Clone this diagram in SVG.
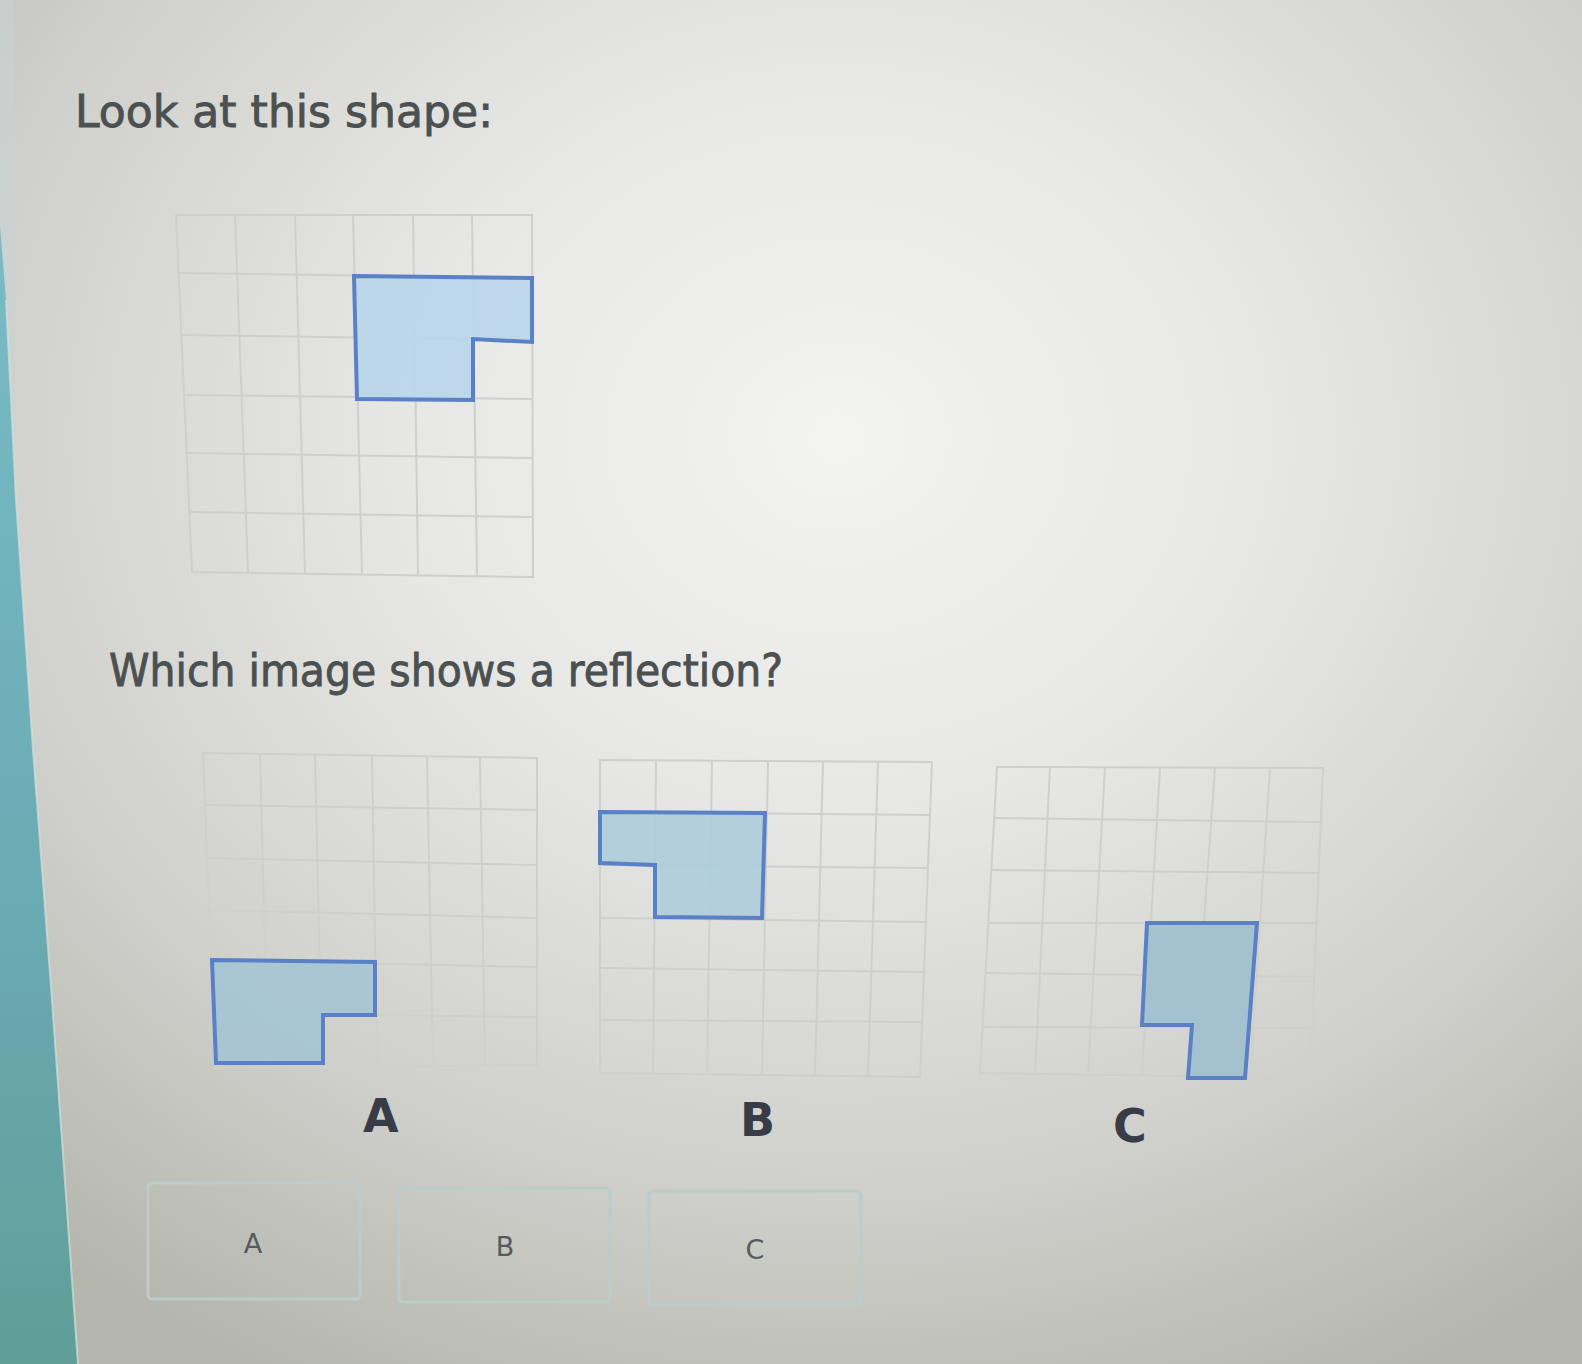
<svg xmlns="http://www.w3.org/2000/svg" width="1582" height="1364" viewBox="0 0 1582 1364">
<defs>
<radialGradient id="bg" cx="0.53" cy="0.32" r="0.78">
<stop offset="0" stop-color="#f3f3f1"/>
<stop offset="0.35" stop-color="#e7e8e5"/>
<stop offset="0.7" stop-color="#d0d1cc"/>
<stop offset="1" stop-color="#b4b5ad"/>
</radialGradient>
<linearGradient id="teal" x1="0" y1="0" x2="0" y2="1">
<stop offset="0" stop-color="#79bcc6"/>
<stop offset="0.6" stop-color="#6aaab3"/>
<stop offset="1" stop-color="#5f9f98"/>
</linearGradient>
<style>
.grid{fill:none;stroke:#cfd0cc;stroke-width:2}
.gin{fill:none;stroke:#cfd0cc;stroke-width:2}
.shape{stroke:#5a80c6;stroke-width:4;stroke-linejoin:miter}
.fillonly{fill-opacity:0.92;stroke:none}
.head{font-family:"DejaVu Sans",sans-serif;font-size:44px;fill:#4b5050;stroke:#4b5050;stroke-width:0.9}
.lab{font-family:"DejaVu Sans",sans-serif;font-weight:bold;font-size:46px;fill:#383c46}
.btn{fill:none;stroke:#bccccb;stroke-width:3}
.btxt{font-family:"DejaVu Sans",sans-serif;font-size:27px;fill:#56595e;text-anchor:middle}
</style>
</defs>
<rect width="1582" height="1364" fill="url(#bg)"/>
<polygon points="0,0 14,0 15,500 0,500" fill="#c9d2d3" opacity="0.6"/>
<polygon points="0,225 6,300 16,500 33,750 52,1000 78,1364 0,1364" fill="url(#teal)"/>
<polyline points="6,300 16,500 33,750 52,1000 78,1364" fill="none" stroke="#d6dedd" stroke-width="2" opacity="0.7"/>

<text class="head" x="75" y="127" textLength="418" lengthAdjust="spacingAndGlyphs">Look at this shape:</text>

<g id="shape-original">
<g class="gin">
<line x1="235" y1="215" x2="248" y2="573"/>
<line x1="295" y1="215" x2="305" y2="574"/>
<line x1="353" y1="215" x2="362" y2="574"/>
<line x1="413" y1="215" x2="418" y2="575"/>
<line x1="472" y1="215" x2="477" y2="576"/>
<line x1="179" y1="273" x2="532" y2="278"/>
<line x1="181" y1="335" x2="532" y2="340"/>
<line x1="184" y1="395" x2="532" y2="399"/>
<line x1="187" y1="453" x2="533" y2="458"/>
<line x1="189" y1="512" x2="533" y2="517"/>
</g>
<polygon class="grid" points="176,215 532,215 533,577 192,572"/>
<polygon class="fillonly" fill="#bad6ea" points="354,276 532,278 532,342 473,339 473,400 357,399"/>
<polygon class="shape" fill="none" points="354,276 532,278 532,342 473,339 473,400 357,399"/>
</g>

<text class="head" x="109" y="686" textLength="674" lengthAdjust="spacingAndGlyphs">Which image shows a reflection?</text>

<g id="option-a">
<g class="gin">
<line x1="260" y1="754" x2="268" y2="1067"/>
<line x1="315" y1="755" x2="322" y2="1067"/>
<line x1="372" y1="755" x2="377" y2="1066"/>
<line x1="427" y1="756" x2="433" y2="1066"/>
<line x1="480" y1="757" x2="485" y2="1065"/>
<line x1="205" y1="805" x2="537" y2="810"/>
<line x1="207" y1="858" x2="537" y2="865"/>
<line x1="209" y1="910" x2="537" y2="918"/>
<line x1="211" y1="960" x2="537" y2="967"/>
<line x1="213" y1="1013" x2="537" y2="1017"/>
</g>
<polygon class="grid" points="203,753 537,758 537,1065 215,1068"/>
<polygon class="fillonly" fill="#a6c4d4" points="212,960 375,962 375,1015 323,1015 323,1063 216,1063"/>
<polygon class="shape" fill="none" points="212,960 375,962 375,1015 323,1015 323,1063 216,1063"/>
</g>

<g id="option-b">
<g class="gin">
<line x1="656" y1="760" x2="653" y2="1074"/>
<line x1="712" y1="761" x2="707" y2="1074"/>
<line x1="768" y1="761" x2="762" y2="1075"/>
<line x1="823" y1="761" x2="815" y2="1076"/>
<line x1="878" y1="762" x2="868" y2="1076"/>
<line x1="600" y1="812" x2="930" y2="815"/>
<line x1="600" y1="865" x2="928" y2="868"/>
<line x1="600" y1="918" x2="926" y2="922"/>
<line x1="600" y1="968" x2="924" y2="972"/>
<line x1="600" y1="1020" x2="922" y2="1022"/>
</g>
<polygon class="grid" points="600,760 932,762 920,1077 600,1073"/>
<polygon class="fillonly" fill="#aecdda" points="600,812 765,813 762,918 655,917 655,865 600,863"/>
<polygon class="shape" fill="none" points="600,812 765,813 762,918 655,917 655,865 600,863"/>
</g>

<g id="option-c">
<g class="gin">
<line x1="1050" y1="767" x2="1035" y2="1074"/>
<line x1="1105" y1="767" x2="1088" y2="1075"/>
<line x1="1160" y1="768" x2="1142" y2="1075"/>
<line x1="1215" y1="768" x2="1193" y2="1076"/>
<line x1="1270" y1="768" x2="1250" y2="1077"/>
<line x1="994" y1="818" x2="1321" y2="822"/>
<line x1="991" y1="870" x2="1319" y2="873"/>
<line x1="988" y1="923" x2="1316" y2="923"/>
<line x1="986" y1="973" x2="1314" y2="977"/>
<line x1="983" y1="1027" x2="1312" y2="1028"/>
</g>
<polygon class="grid" points="997,767 1323,768 1310,1078 980,1073"/>
<polygon class="fillonly" fill="#a0bfce" points="1147,923 1257,923 1245,1078 1188,1078 1192,1025 1142,1025"/>
<polygon class="shape" fill="none" points="1147,923 1257,923 1245,1078 1188,1078 1192,1025 1142,1025"/>
</g>

<g id="labels">
<text class="lab" x="363" y="1132">A</text>
<text class="lab" x="740" y="1136">B</text>
<text class="lab" x="1113" y="1142">C</text>
</g>

<g id="button-a">
<rect class="btn" x="148" y="1183" width="212" height="116" rx="4"/>
<text class="btxt" x="253" y="1253">A</text>
</g>
<g id="button-b">
<rect class="btn" x="399" y="1188" width="211" height="114" rx="4"/>
<text class="btxt" x="505" y="1256">B</text>
</g>
<g id="button-c">
<rect class="btn" x="649" y="1191" width="212" height="114" rx="4"/>
<text class="btxt" x="755" y="1259">C</text>
</g>
<g id="connectors"/>
</svg>
